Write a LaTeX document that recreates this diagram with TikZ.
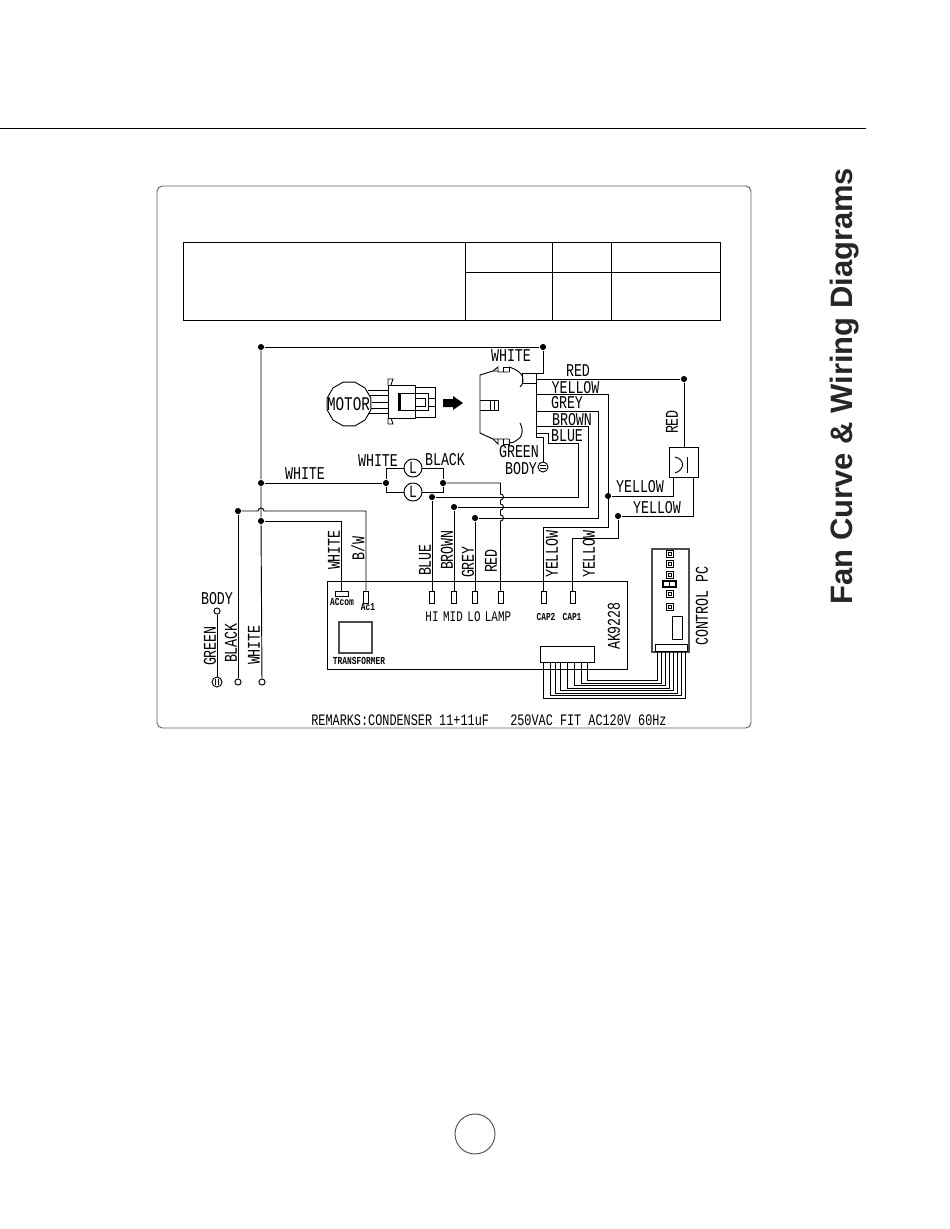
\documentclass[tikz,border=0pt]{standalone}
\usepackage{fontspec}
\usetikzlibrary{shapes.geometric}
\newfontfamily\cadfont[FakeStretch=0.74]{Liberation Mono}
\newfontfamily\headfont{Liberation Sans}
\begin{document}
\begin{tikzpicture}[x=0.75pt,y=-0.75pt,line width=0.7pt,
  wl/.style={inner sep=0pt,font=\cadfont\fontsize{13.5}{14}\selectfont},
  rl/.style={wl,rotate=90},
  ml/.style={inner sep=0pt,font=\cadfont\fontsize{11}{12}\selectfont},
  sl/.style={inner sep=0pt,font=\cadfont\bfseries\fontsize{8}{9}\selectfont},
  jn/.style={circle,fill,inner sep=0pt,minimum size=4.6pt},
  tm/.style={circle,draw,inner sep=0pt,minimum size=4.6pt},
  gnd/.style={circle,draw,inner sep=0pt,minimum size=7.5pt},
  lamp/.style={circle,draw,inner sep=0pt,minimum size=13.5pt,font=\cadfont\fontsize{13}{14}\selectfont},
  pin/.style={rectangle,draw,inner sep=0pt,minimum width=3.75pt,minimum height=9pt},
  sq/.style={rectangle,draw,inner sep=0pt,minimum size=5.2pt},
  box/.style={rectangle,draw,inner sep=0pt,line width=0.9pt,draw=black!70}]
\useasboundingbox (0,0) rectangle (950,1229);
% page furniture
\draw (0,128) -- (866,128);
\draw[black!60,rounded corners=4pt] (157,186) rectangle (751,728);
\draw (183,242) rectangle (720,320);
\draw (465,242) -- (465,320);
\draw (552,242) -- (552,320);
\draw (611,242) -- (611,320);
\draw (465,272) -- (720,272);
\draw[black!70] (475,1134) circle (20);
\node[rotate=90,inner sep=0pt,font=\headfont\bfseries\fontsize{23.2}{24}\selectfont,text=black!85] (title) at (845,386) {Fan Curve \& Wiring Diagrams};

% motor and plug
\node[regular polygon,regular polygon sides=12,draw,inner sep=0pt,minimum size=34pt] (motor) at (349,404) {};
\node[wl,font=\cadfont\fontsize{14.5}{15}\selectfont] (lmotor) at (348.5,404) {MOTOR};
\draw (368,390) -- (388,390);
\draw (370,395) -- (388,395);
\draw (372,402) -- (388,402);
\draw (371,408) -- (388,408);
\draw (368,413) -- (388,413);
\draw (388,385) rectangle (415,418);
\draw (388,385) -- (388,379) -- (393,379) -- (391,385);
\draw (388,418) -- (388,424) -- (393,424) -- (391,418);
\draw (415,387) -- (435,387) -- (435,417) -- (415,417);
\draw (398,393) rectangle (415,410);
\fill (398,393) rectangle (401,410);
\draw (415,393) -- (428,393) -- (428,410) -- (415,410);
\draw (415,398) -- (425,398) -- (425,406) -- (415,406);
\draw (428,398) -- (435,398);
\draw (428,406) -- (435,406);
\fill (443,399) -- (453,399) -- (453,396) -- (463,403) -- (453,410) -- (453,407) -- (443,407) -- cycle;
\draw (509,367) .. controls (516,369) and (524,374) .. (523,380) .. controls (523,384) and (521,386) .. (520,387);
\draw (520,423) .. controls (523,428) and (524,436) .. (517,440) .. controls (515,442) and (512,443) .. (509,443);
\draw (498,371) -- (493,371) -- (480,375) -- (480,433) -- (493,439) -- (498,439);
\draw (493,371) -- (498,367) -- (498,372) -- (509,372);
\draw (503,372) -- (503,367) -- (509,367) -- (509,372);
\draw (493,439) -- (498,444) -- (498,439) -- (509,439);
\draw (503,439) -- (503,444) -- (509,444) -- (509,439);
\draw (480,400) -- (498,400) -- (498,410) -- (480,410);
\draw (490,400) -- (490,410);
\draw (494,400) -- (494,410);
\draw (522,373) rectangle (536,383);
\draw (536,373) -- (536,437);

% board
\draw (327,581) rectangle (627,669);
\node[pin,minimum width=9.75pt,minimum height=3.75pt] (tcom) at (341.5,593.5) {};
\node[pin] (tac1) at (366,597) {};
\node[pin] (thi) at (432,597) {};
\node[pin] (tmid) at (454,597) {};
\node[pin] (tlo) at (475,597) {};
\node[pin] (tlamp) at (500.5,597) {};
\node[pin] (tcap2) at (543.5,597) {};
\node[pin] (tcap1) at (572.5,597) {};
\node[box,minimum width=24.75pt,minimum height=23.25pt] (trans) at (355.5,637.5) {};
\node[draw,rectangle,inner sep=0pt,minimum width=40.5pt,minimum height=12pt] (cn1) at (567,654) {};

% control pc
\node[box,minimum width=27.75pt,minimum height=77.25pt] (pc) at (670.5,600.5) {};
\foreach \i/\y in {1/554,2/564,3/575,4/594,5/607} {
  \node[sq] (sq\i) at (670,\y) {};
  \node[rectangle,draw,inner sep=0pt,minimum size=2pt] (sqi\i) at (670,\y) {};
}
\node[rectangle,draw,line width=0.9pt,inner sep=0pt,minimum width=9.75pt,minimum height=4.5pt] (sw) at (669.5,584) {};
\draw (669.5,581.75) -- (669.5,586.25);
\node[rectangle,draw,inner sep=0pt,minimum width=7.5pt,minimum height=17.25pt] (rc) at (677,627.5) {};
\node[rectangle,draw,inner sep=0pt,minimum width=24pt,minimum height=5.25pt] (cn2) at (671,647.5) {};

% ribbon
\foreach \i/\a/\b/\y in {1/543/685/698.3,2/550/681/695.8,3/555/677/693.3,4/560/673/690.7,5/567/669/688.2,6/574/665/685.7,7/581/661/683.2,8/587/657/680.7} {
  \coordinate (ra\i) at (\a,662);
  \coordinate (rb\i) at (\b,651);
  \coordinate (rm\i) at (\a,\y);
  \draw (ra\i) -- (rm\i) -| (rb\i);
}

% capacitor
\node[rectangle,draw,inner sep=0pt,minimum width=21.75pt,minimum height=22.5pt] (cap) at (683.5,462) {};
\draw (675,457) .. controls (685,459) and (685,470) .. (675,473);
\draw (687,457) -- (687,473);

% lamps
\node[lamp] (lu) at (413,468) {L};
\node[lamp] (ll) at (413,492) {L};

% junctions
\node[jn] (jtl) at (261,347) {};
\node[jn] (jtop) at (543,347) {};
\node[jn] (jw1) at (261,483) {};
\node[jn] (jw2) at (261,521) {};
\node[jn] (jb) at (238,511) {};
\node[jn] (jl) at (386,483) {};
\node[jn] (jr) at (443,483) {};
\node[jn] (jblue) at (432,497) {};
\node[jn] (jbrown) at (454,507) {};
\node[jn] (jgrey) at (475,518) {};
\node[jn] (jred) at (684,379) {};
\node[jn] (jy1) at (608,496) {};
\node[jn] (jy2) at (618,516) {};
\node[tm] (tbody) at (217,611) {};
\node[tm] (tblack) at (238,682) {};
\node[tm] (twhite) at (262,682) {};
\node[gnd] (gl) at (217,682) {};
\node[gnd] (gb) at (543,467) {};
\draw (gl.center) ++(-1.5,-3) -- ++(0,6);
\draw (gl.center) ++(1.5,-3) -- ++(0,6);
\draw (gb.center) ++(-3,-1.5) -- ++(6,0);
\draw (gb.center) ++(-3,1.5) -- ++(6,0);

\coordinate (plw) at (543,373);
\coordinate (bred) at (536,379);
\coordinate (byel) at (536,394);
\coordinate (bgrey) at (536,411);
\coordinate (bbrown) at (536,426);
\coordinate (bblue) at (536,433);
\coordinate (bgreen) at (536,437);
\coordinate (blc) at (548,443);
\coordinate (blue2) at (578,497);
\coordinate (brown2) at (588,507);
\coordinate (grey2) at (598,518);
\coordinate (yc) at (608,527);
\coordinate (c1c) at (618,538);
\coordinate (cl) at (673,477);
\coordinate (cr) at (693,477);
\coordinate (hp) at (258,511);
\coordinate (h0) at (500.5,483);
\coordinate (h1) at (500.5,494);
\coordinate (h2) at (500.5,504);
\coordinate (h3) at (500.5,515);

% wires
\draw (jtl) -- (jtop);
\draw (jtl) -- (jw1) -- (jw2) -- (twhite);
\draw (jtop) -- (plw) -- (522,373);
\draw (jw1) -- (jl);
\draw (jl) |- (lu);
\draw (jl) |- (ll);
\draw (lu) -| (jr);
\draw (ll) -| (jr);
\draw (jr) -- (h0) -- (h1) arc (-90:90:3) -- (h2) arc (-90:90:3) -- (h3) arc (-90:90:3) -- (tlamp.north);
\draw (jb) -- (hp) arc (180:360:3) -| (tac1.north);
\draw (jb) -- (tblack);
\draw (jw2) -| (tcom.north);
\draw (tbody) -- (gl);
\draw (jblue) -- (thi.north);
\draw (jbrown) -- (tmid.north);
\draw (jgrey) -- (tlo.north);
\draw (bred) -- (jred) -- (jred |- cap.north);
\draw (byel) -| (yc) -| (tcap2.north);
\draw (bgrey) -| (grey2) -- (jgrey);
\draw (bbrown) -| (brown2) -- (jbrown);
\draw (bblue) -| (blc) -| (blue2) -- (jblue);
\draw (bgreen) -| (gb);
\draw (jy1) -| (cl);
\draw (cr) |- (jy2);
\draw (jy2) -- (c1c) -| (tcap1.north);

% labels
\node[wl] (lw1) at (511,356) {WHITE};
\node[wl] (lr1) at (578,371) {RED};
\node[wl] (ly1) at (575.5,388) {YELLOW};
\node[wl] (lg1) at (567,403) {GREY};
\node[wl] (lbr1) at (572,420) {BROWN};
\node[wl] (lbl1) at (567,436) {BLUE};
\node[wl] (lgr1) at (519,452) {GREEN};
\node[wl] (lbd1) at (521,469) {BODY};
\node[wl] (lw2) at (378,461) {WHITE};
\node[wl] (lk1) at (445,460) {BLACK};
\node[wl] (lw3) at (305,474) {WHITE};
\node[wl] (ly2) at (640,487) {YELLOW};
\node[wl] (ly3) at (657,508) {YELLOW};
\node[rl] (lr2) at (672,422) {RED};
\node[rl] (lw4) at (334,550) {WHITE};
\node[rl] (lbw) at (358,548) {B/W};
\node[rl] (lbl2) at (425,560) {BLUE};
\node[rl] (lbr2) at (447,550) {BROWN};
\node[rl] (lg2) at (468,562) {GREY};
\node[rl] (lr3) at (491,561) {RED};
\node[rl] (ly4) at (552,554) {YELLOW};
\node[rl] (ly5) at (589,554) {YELLOW};
\node[rl] (lpc) at (702,606) {CONTROL PC};
\node[rl] (lak) at (614,626) {AK9228};
\node[wl] (lbd2) at (217,599) {BODY};
\node[rl] (lgr2) at (210,646) {GREEN};
\node[rl] (lk2) at (231,643) {BLACK};
\node[rl] (lw5) at (254,645) {WHITE};
\node[ml] (lhi) at (432,617) {HI};
\node[ml] (lmid) at (453,617) {MID};
\node[ml] (llo) at (474,617) {LO};
\node[ml] (llamp) at (498,617) {LAMP};
\node[sl] (lcap2) at (546,617) {CAP2};
\node[sl] (lcap1) at (572,617) {CAP1};
\node[sl] (lcom) at (342,602) {ACcom};
\node[sl] (lac1) at (368,607) {Ac1};
\node[sl] (ltr) at (359,661) {TRANSFORMER};
\node[wl,font=\cadfont\fontsize{12}{13}\selectfont] (lrem) at (489,720) {REMARKS:CONDENSER 11+11uF~~~250VAC FIT AC120V 60Hz};
\end{tikzpicture}
\end{document}
